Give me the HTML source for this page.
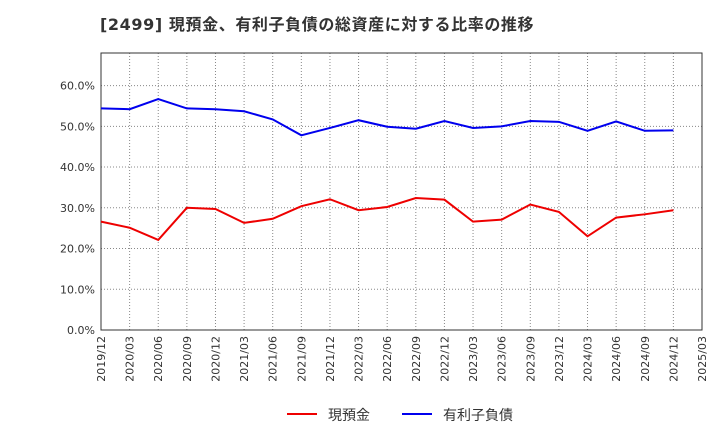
<!DOCTYPE html>
<html><head><meta charset="utf-8"><style>
body{margin:0;background:#fff;font-family:"Liberation Sans","Noto Sans CJK JP",sans-serif;}
</style></head><body>
<svg id="c" width="720" height="440" xmlns="http://www.w3.org/2000/svg">
<text x="100" y="30" font-size="16" font-weight="bold" fill="#333" letter-spacing="0.6" font-family="DejaVu Sans, Noto Sans CJK JP, sans-serif">[2499]  現預金、有利子負債の総資産に対する比率の推移</text>
<g id="grid"></g><g id="axes"></g><g id="series"></g>
<g font-family="DejaVu Sans, Noto Sans CJK JP, sans-serif">
<line x1="287" y1="414" x2="317" y2="414" stroke="#e00" stroke-width="2"/>
<text x="328" y="420" font-size="14" fill="#333">現預金</text>
<line x1="402" y1="414" x2="432" y2="414" stroke="#00e" stroke-width="2"/>
<text x="443" y="420" font-size="14" fill="#333">有利子負債</text>
</g>
</svg>
<script>
const categories=["2019/12","2020/03","2020/06","2020/09","2020/12","2021/03","2021/06","2021/09","2021/12","2022/03","2022/06","2022/09","2022/12","2023/03","2023/06","2023/09","2023/12","2024/03","2024/06","2024/09","2024/12","2025/03"];
const cash=[26.6,25.1,22.1,30.0,29.7,26.3,27.3,30.4,32.1,29.4,30.2,32.4,32.0,26.6,27.1,30.8,29.0,23.0,27.6,28.4,29.4];
const debt=[54.4,54.2,56.7,54.4,54.2,53.7,51.7,47.8,49.6,51.5,49.9,49.4,51.3,49.6,50.0,51.3,51.1,48.9,51.2,48.9,49.0];
const yTicks=[0,10,20,30,40,50,60];
const L=101,R=702,T=53,B=330,yMax=68;
const ns="http://www.w3.org/2000/svg";
const x=i=>L+(R-L)*i/(categories.length-1);
const y=v=>B-(B-T)*v/yMax;
function mk(p,tag,a){const e=document.createElementNS(ns,tag);for(const k in a)e.setAttribute(k,a[k]);p.appendChild(e);return e;}
const g=document.getElementById('grid'),ax=document.getElementById('axes'),s=document.getElementById('series');
ax.setAttribute('font-family','DejaVu Sans, sans-serif');
categories.forEach((c,i)=>{
 const l=mk(g,'line',{x1:x(i),x2:x(i),y1:T,y2:B,stroke:'#888','stroke-dasharray':'1,2','stroke-width':1});
 
 
 const t=mk(ax,'text',{x:0,y:0,'font-size':11,fill:'#333','text-anchor':'end',transform:`translate(${x(i)+4},${B+6}) rotate(-90)`});
 t.textContent=c;
 
 
});
yTicks.forEach(v=>{
 const l=mk(g,'line',{x1:L,x2:R,y1:y(v),y2:y(v),stroke:'#888','stroke-dasharray':'1,2','stroke-width':1});
 
 
 const t=mk(ax,'text',{x:L-6,y:y(v)+4,'font-size':11,fill:'#333','text-anchor':'end'});
 t.textContent=v.toFixed(1)+'%';
 
 
});
const fr=mk(ax,'rect',{x:L,y:T,width:R-L,height:B-T,fill:'none',stroke:'#333','stroke-width':1});


const p1=mk(s,'polyline',{points:cash.map((v,i)=>x(i)+','+y(v)).join(' '),fill:'none',stroke:'#e00','stroke-width':2});


const p2=mk(s,'polyline',{points:debt.map((v,i)=>x(i)+','+y(v)).join(' '),fill:'none',stroke:'#00e','stroke-width':2});


</script>
</body></html>
